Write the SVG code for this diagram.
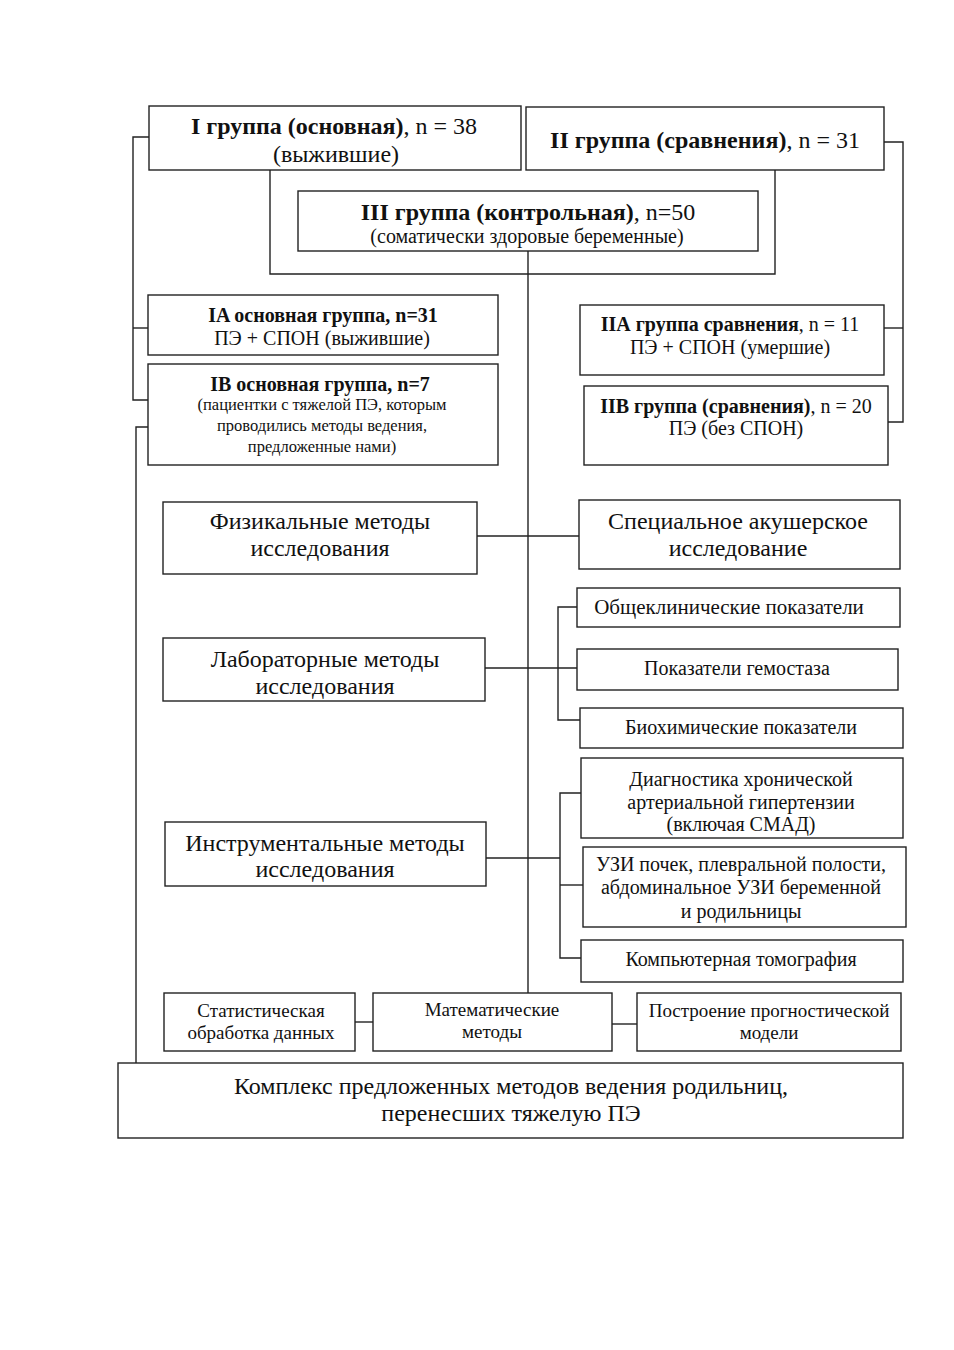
<svg xmlns="http://www.w3.org/2000/svg" width="954" height="1350" viewBox="0 0 954 1350">
<style>
rect{fill:#fff;stroke:#222;stroke-width:1.4}
.c path,.c line{fill:none;stroke:#222;stroke-width:1.4}
text{font-family:"Liberation Serif","Times New Roman",serif;fill:#111;text-anchor:middle}
.b{font-weight:bold}
.s24{font-size:24px}.s20{font-size:20px}.s19{font-size:19px}.s16{font-size:16.5px}.s21{font-size:21px}
</style>
<rect x="0" y="0" width="954" height="1350" style="fill:#fff;stroke:none"/>
<g class="c" id="connectors">
<path d="M270,170 V274 H775 V170"/>
<line x1="528" y1="251" x2="528" y2="993"/>
<path d="M149,137 H133 V400 H148"/>
<line x1="133" y1="328" x2="148" y2="328"/>
<path d="M148,427 H136 V1063"/>
<path d="M884,142 H903 V422 H888"/>
<line x1="884" y1="328" x2="903" y2="328"/>
<line x1="477" y1="536" x2="579" y2="536"/>
<line x1="485" y1="668" x2="577" y2="668"/>
<path d="M577,607 H558 V720 H580"/>
<line x1="486" y1="858" x2="560" y2="858"/>
<path d="M581,793 H560 V958 H581"/>
<line x1="560" y1="885" x2="583" y2="885"/>
<line x1="355" y1="1022" x2="373" y2="1022"/>
<line x1="612" y1="1024" x2="637" y2="1024"/>
</g>
<g id="n1"><rect x="149" y="106" width="372" height="64"/>
<text x="334" y="134" class="s24"><tspan class="b">I группа (основная)</tspan>, n = 38</text>
<text x="336" y="162" class="s24">(выжившие)</text></g>
<g id="n2"><rect x="526" y="107" width="358" height="63"/>
<text x="705" y="148" class="s24"><tspan class="b">II группа (сравнения)</tspan>, n = 31</text></g>
<g id="n3"><rect x="298" y="191" width="460" height="60"/>
<text x="528" y="220" class="s24"><tspan class="b">III группа (контрольная)</tspan>, n=50</text>
<text x="527" y="243" class="s20">(соматически здоровые беременные)</text></g>
<g id="n4"><rect x="148" y="295" width="350" height="60"/>
<text x="323" y="322" class="s20 b">IA основная группа, n=31</text>
<text x="322" y="345" class="s20">ПЭ + СПОН (выжившие)</text></g>
<g id="n5"><rect x="148" y="364" width="350" height="101"/>
<text x="320" y="391" class="s20 b">IB основная группа, n=7</text>
<text x="322" y="410" class="s16">(пациентки с тяжелой ПЭ, которым</text>
<text x="322" y="431" class="s16">проводились методы ведения,</text>
<text x="322" y="452" class="s16">предложенные нами)</text></g>
<g id="n6"><rect x="580" y="305" width="304" height="70"/>
<text x="730" y="331" class="s20"><tspan class="b">IIА группа сравнения</tspan>, n = 11</text>
<text x="730" y="354" class="s20">ПЭ + СПОН (умершие)</text></g>
<g id="n7"><rect x="584" y="386" width="304" height="79"/>
<text x="736" y="413" class="s20"><tspan class="b">IIВ группа (сравнения)</tspan>, n = 20</text>
<text x="736" y="435" class="s20">ПЭ (без СПОН)</text></g>
<g id="n8"><rect x="163" y="502" width="314" height="72"/>
<text x="320" y="529" class="s24">Физикальные методы</text>
<text x="320" y="556" class="s24">исследования</text></g>
<g id="n9"><rect x="579" y="500" width="321" height="69"/>
<text x="738" y="529" class="s24">Специальное акушерское</text>
<text x="738" y="556" class="s24">исследование</text></g>
<g id="n10"><rect x="163" y="638" width="322" height="63"/>
<text x="325" y="667" class="s24">Лабораторные методы</text>
<text x="325" y="694" class="s24">исследования</text></g>
<g id="n11"><rect x="577" y="588" width="323" height="39"/>
<text x="729" y="614" class="s21">Общеклинические показатели</text></g>
<g id="n12"><rect x="577" y="649" width="321" height="41"/>
<text x="737" y="675" class="s20">Показатели гемостаза</text></g>
<g id="n13"><rect x="580" y="708" width="323" height="40"/>
<text x="741" y="734" class="s20">Биохимические показатели</text></g>
<g id="n14"><rect x="165" y="822" width="321" height="64"/>
<text x="325" y="851" class="s24">Инструментальные методы</text>
<text x="325" y="877" class="s24">исследования</text></g>
<g id="n15"><rect x="581" y="758" width="322" height="80"/>
<text x="741" y="786" class="s20">Диагностика хронической</text>
<text x="741" y="809" class="s20">артериальной гипертензии</text>
<text x="741" y="831" class="s20">(включая СМАД)</text></g>
<g id="n16"><rect x="583" y="847" width="323" height="80"/>
<text x="741" y="871" class="s20">УЗИ почек, плевральной полости,</text>
<text x="741" y="894" class="s20">абдоминальное УЗИ беременной</text>
<text x="741" y="918" class="s20">и родильницы</text></g>
<g id="n17"><rect x="581" y="940" width="322" height="42"/>
<text x="741" y="966" class="s20">Компьютерная томография</text></g>
<g id="n18"><rect x="164" y="993" width="191" height="58"/>
<text x="261" y="1017" class="s19">Статистическая</text>
<text x="261" y="1039" class="s19">обработка данных</text></g>
<g id="n19"><rect x="373" y="993" width="239" height="58"/>
<text x="492" y="1016" class="s19">Математические</text>
<text x="492" y="1038" class="s19">методы</text></g>
<g id="n20"><rect x="637" y="993" width="264" height="58"/>
<text x="769" y="1017" class="s19">Построение прогностической</text>
<text x="769" y="1039" class="s19">модели</text></g>
<g id="n21"><rect x="118" y="1063" width="785" height="75"/>
<text x="511" y="1094" class="s24">Комплекс предложенных методов ведения родильниц,</text>
<text x="511" y="1121" class="s24">перенесших тяжелую ПЭ</text></g>
</svg>
